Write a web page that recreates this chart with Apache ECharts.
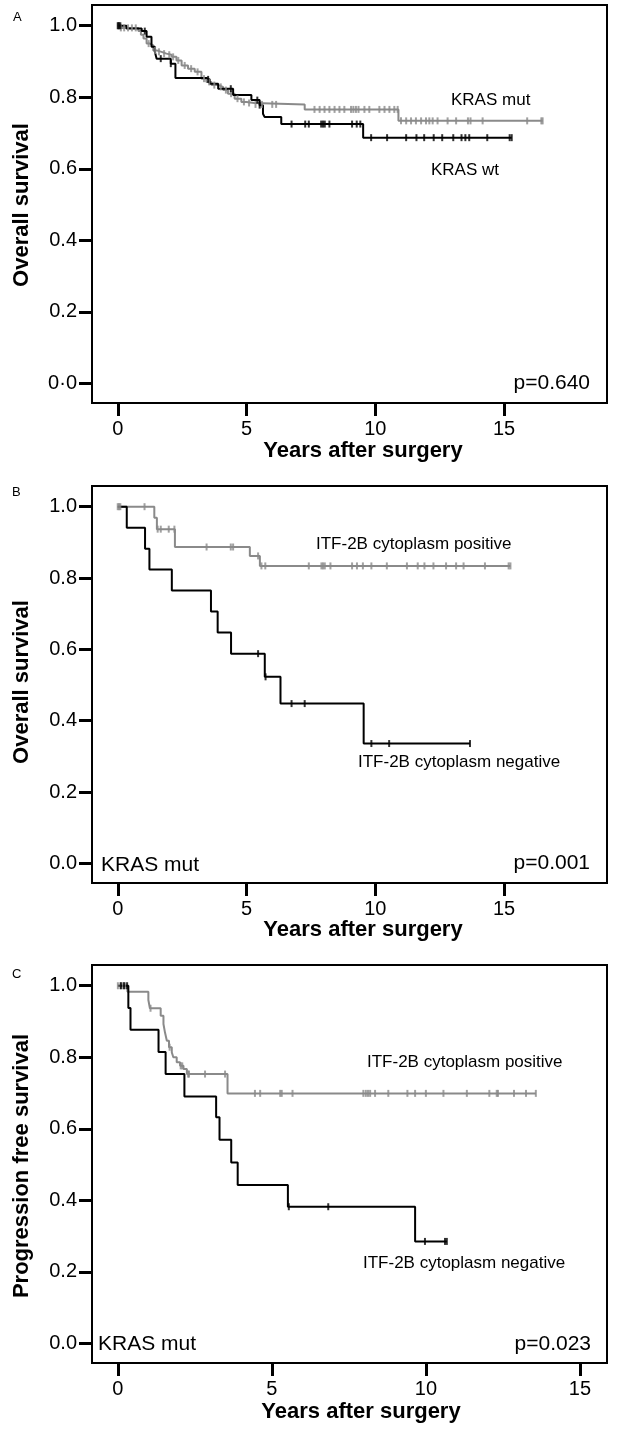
<!DOCTYPE html>
<html><head><meta charset="utf-8">
<script src="https://cdn.jsdelivr.net/npm/echarts@6/dist/echarts.min.js"></script>
<style>html,body{margin:0;padding:0;background:#fff}#c{width:620px;height:1433px}</style>
</head><body><div id="c"></div>
<script>
// ---------- tick labels ----------
const yTicks = [0, 0.2, 0.4, 0.6, 0.8, 1.0];
const yTickLabelsA = ['0·0', '0.2', '0.4', '0.6', '0.8', '1.0'];
const yTickLabelsBC = ['0.0', '0.2', '0.4', '0.6', '0.8', '1.0'];
const xTicks = [0, 5, 10, 15];
const xTickLabels = ['0', '5', '10', '15'];

// ---------- Panel A: KRAS wt (black) / KRAS mut (gray) ----------
const aWtTimes = [0, 0.34, 0.93, 1.12, 1.31, 1.44, 1.51, 2.06, 2.24, 3.44, 3.57, 3.9, 4.48, 5.19, 5.51, 5.64, 5.7, 6.35, 9.53, 15.3];
const aWtSurv  = [1.0, 0.992, 0.985, 0.969, 0.941, 0.927, 0.908, 0.894, 0.854, 0.85, 0.838, 0.824, 0.806, 0.792, 0.778, 0.754, 0.745, 0.725, 0.687, 0.687];
const aWtCensor = [0, 0.05, 0.1, 1.05, 1.67, 2.06, 3.51, 4.39, 5.42, 5.51, 6.75, 7.28, 7.42, 7.9, 7.97, 8.04, 8.22, 9.1, 9.28, 9.42, 9.84, 10.46, 11.2, 11.6, 11.9, 12.27, 12.6, 13.03, 13.35, 13.5, 13.65, 14.35, 15.22, 15.3];

const aMutTimes = [0, 0.09, 0.8, 0.9, 1.0, 1.12, 1.25, 1.38, 1.51, 1.7, 1.89, 2.09, 2.28, 2.48, 2.73, 2.99, 3.25, 3.44, 3.64, 3.9, 4.09, 4.28, 4.54, 4.8, 5.0, 5.3, 7.26, 10.9, 16.5];
const aMutSurv  = [1.0, 0.994, 0.985, 0.975, 0.964, 0.95, 0.945, 0.931, 0.927, 0.922, 0.919, 0.913, 0.903, 0.889, 0.88, 0.871, 0.852, 0.843, 0.834, 0.829, 0.82, 0.81, 0.796, 0.787, 0.784, 0.78, 0.766, 0.734, 0.734];
const aMutCensor = [0.02, 0.12, 0.25, 0.4, 0.55, 0.7, 1.2, 1.45, 1.6, 1.8, 2.0, 2.15, 2.35, 2.6, 2.85, 3.1, 3.35, 3.55, 3.75, 4.0, 4.2, 4.4, 4.65, 4.9, 5.1, 5.35, 5.6, 6.0, 6.15,
  7.64, 7.84, 8.03, 8.22, 8.42, 8.61, 8.8, 9.06, 9.15, 9.25, 9.35, 9.58, 9.77, 10.16, 10.36, 10.55, 10.74, 10.87,
  11.0, 11.2, 11.39, 11.58, 11.78, 11.97, 12.1, 12.23, 12.42, 12.81, 13.14, 13.6, 13.7, 14.17, 15.9, 16.45, 16.5];

// ---------- Panel B: ITF-2B cytoplasm negative (black) / positive (gray), KRAS mut, OS ----------
const bNegTimes = [0, 0.35, 1.06, 1.23, 2.1, 3.62, 3.88, 4.4, 5.71, 6.32, 9.55, 13.68];
const bNegSurv  = [1.0, 0.941, 0.882, 0.824, 0.765, 0.706, 0.647, 0.588, 0.523, 0.448, 0.336, 0.336];
const bNegCensor = [5.45, 5.74, 6.75, 7.26, 9.85, 10.54, 13.68];

const bPosTimes = [0, 1.42, 1.52, 2.22, 5.13, 5.52, 15.25];
const bPosSurv  = [1.0, 0.969, 0.937, 0.887, 0.862, 0.834, 0.834];
const bPosCensor = [0, 0.05, 0.1, 1.04, 1.55, 1.67, 1.98, 2.2, 3.45, 4.39, 4.48, 5.45, 5.58, 5.73, 7.42, 7.91, 7.97, 8.04, 8.26, 9.1, 9.29, 9.52, 9.85, 10.45, 11.23, 11.65, 11.91, 12.26, 12.75, 13.14, 13.43, 14.26, 15.18, 15.25];

// ---------- Panel C: ITF-2B cytoplasm negative (black) / positive (gray), KRAS mut, PFS ----------
const cNegTimes = [0, 0.34, 0.41, 1.32, 1.55, 2.16, 3.19, 3.3, 3.68, 3.89, 5.52, 9.65, 10.68];
const cNegSurv  = [1.0, 0.938, 0.877, 0.815, 0.753, 0.69, 0.632, 0.569, 0.506, 0.443, 0.382, 0.285, 0.285];
const cNegCensor = [0.1, 0.2, 0.3, 5.55, 6.83, 9.97, 10.62, 10.68];

const cPosTimes = [0, 0.31, 0.99, 1.04, 1.39, 1.48, 1.53, 1.59, 1.66, 1.75, 1.8, 1.91, 2.02, 2.13, 2.24, 3.56, 13.57];
const cPosSurv  = [1.0, 0.983, 0.96, 0.937, 0.916, 0.893, 0.869, 0.846, 0.828, 0.814, 0.80, 0.786, 0.776, 0.767, 0.753, 0.699, 0.699];
const cPosCensor = [0, 0.08, 0.16, 0.24, 1.06, 1.68, 2.04, 2.09, 2.28, 2.31, 2.83, 3.48, 4.45, 4.62, 5.27, 5.32, 5.67, 7.97, 8.05, 8.12, 8.19, 8.35, 8.78, 9.4, 9.65, 10.0, 10.57, 11.33, 12.06, 12.3, 12.34, 12.86, 13.25, 13.57];

// ---------- helpers ----------
const FONT = "'Liberation Sans', Arial, Helvetica, sans-serif";
const BLACK = '#000000';
const GRAY = '#8a8a8a';

function pairs(times, surv) { return times.map((t, i) => [t, surv[i]]); }
function survAt(times, surv, t) {
  let s = surv[0];
  for (let i = 0; i < times.length; i++) { if (times[i] <= t + 1e-9) s = surv[i]; }
  return s;
}
function censorPts(times, surv, cens) { return cens.map(t => [t, survAt(times, surv, t)]); }

const panels = [
  { top: 5,   height: 398, xmin: -1,    xmax: 19,    ylab: yTickLabelsA },
  { top: 486, height: 397, xmin: -1,    xmax: 19,    ylab: yTickLabelsBC },
  { top: 965, height: 398, xmin: -0.84, xmax: 15.88, ylab: yTickLabelsBC }
];

const grids = panels.map(p => ({
  left: 92, top: p.top, width: 515, height: p.height,
  show: true, borderColor: '#000', borderWidth: 2, backgroundColor: 'transparent', containLabel: false
}));

const xAxes = panels.map((p, i) => ({
  gridIndex: i, type: 'value', min: p.xmin, max: p.xmax, position: 'bottom',
  axisLine: { show: false, onZero: false },
  axisTick: { show: true, inside: false, length: 13, lineStyle: { color: '#000', width: 3 }, customValues: xTicks },
  axisLabel: { show: true, customValues: xTicks, margin: 16, fontSize: 20, color: '#000', fontFamily: FONT,
    formatter: v => { const k = xTicks.findIndex(q => Math.abs(q - v) < 1e-6); return k >= 0 ? xTickLabels[k] : ''; } },
  splitLine: { show: false }
}));

const yAxes = panels.map((p, i) => ({
  gridIndex: i, type: 'value', min: -0.055, max: 1.058, position: 'left',
  axisLine: { show: false, onZero: false },
  axisTick: { show: true, inside: false, length: 13, lineStyle: { color: '#000', width: 3 }, customValues: yTicks },
  axisLabel: { show: true, customValues: yTicks, margin: 15, fontSize: 20, color: '#000', fontFamily: FONT,
    formatter: v => { const k = yTicks.findIndex(q => Math.abs(q - v) < 1e-6); return k >= 0 ? p.ylab[k] : ''; } },
  splitLine: { show: false }
}));

function stepLine(name, idx, times, surv, color) {
  return { name, type: 'line', xAxisIndex: idx, yAxisIndex: idx, step: 'end', showSymbol: false, symbol: 'none',
    data: pairs(times, surv), lineStyle: { color, width: 2 }, itemStyle: { color }, z: color === BLACK ? 4 : 3, animation: false };
}
function censors(name, idx, times, surv, cens, color) {
  return { name, type: 'scatter', xAxisIndex: idx, yAxisIndex: idx, symbol: 'rect', symbolSize: [2, 7],
    data: censorPts(times, surv, cens), itemStyle: { color }, z: color === BLACK ? 5 : 4, animation: false };
}

const series = [
  stepLine('KRAS mut', 0, aMutTimes, aMutSurv, GRAY),
  censors('KRAS mut censored', 0, aMutTimes, aMutSurv, aMutCensor, GRAY),
  stepLine('KRAS wt', 0, aWtTimes, aWtSurv, BLACK),
  censors('KRAS wt censored', 0, aWtTimes, aWtSurv, aWtCensor, BLACK),
  stepLine('ITF-2B cytoplasm positive', 1, bPosTimes, bPosSurv, GRAY),
  censors('ITF-2B cytoplasm positive censored', 1, bPosTimes, bPosSurv, bPosCensor, GRAY),
  stepLine('ITF-2B cytoplasm negative', 1, bNegTimes, bNegSurv, BLACK),
  censors('ITF-2B cytoplasm negative censored', 1, bNegTimes, bNegSurv, bNegCensor, BLACK),
  stepLine('ITF-2B cytoplasm positive', 2, cPosTimes, cPosSurv, GRAY),
  censors('ITF-2B cytoplasm positive censored', 2, cPosTimes, cPosSurv, cPosCensor, GRAY),
  stepLine('ITF-2B cytoplasm negative', 2, cNegTimes, cNegSurv, BLACK),
  censors('ITF-2B cytoplasm negative censored', 2, cNegTimes, cNegSurv, cNegCensor, BLACK)
];

function txt(text, x, y, size, opts) {
  opts = opts || {};
  return { type: 'text', x, y, rotation: opts.rot || 0, z: 10, silent: true,
    style: { text, fill: '#000', fontSize: size, fontFamily: FONT, fontWeight: opts.bold ? 'bold' : 'normal',
      textAlign: opts.align || 'left', textVerticalAlign: 'middle' } };
}

const graphic = [
  // Panel A
  txt('A', 13, 17, 13),
  txt('KRAS mut', 451, 100, 17),
  txt('KRAS wt', 431, 170, 17),
  txt('p=0.640', 590, 383, 21, { align: 'right' }),
  txt('Years after surgery', 363, 451, 22, { bold: true, align: 'center' }),
  txt('Overall survival', 22, 205, 22, { bold: true, align: 'center', rot: Math.PI / 2 }),
  // Panel B
  txt('B', 12, 492, 13),
  txt('ITF-2B cytoplasm positive', 316, 544, 17),
  txt('ITF-2B cytoplasm negative', 358, 762, 17),
  txt('KRAS mut', 101, 865, 21),
  txt('p=0.001', 590, 863, 21, { align: 'right' }),
  txt('Years after surgery', 363, 930, 22, { bold: true, align: 'center' }),
  txt('Overall survival', 22, 682, 22, { bold: true, align: 'center', rot: Math.PI / 2 }),
  // Panel C
  txt('C', 12, 974, 13),
  txt('ITF-2B cytoplasm positive', 367, 1062, 17),
  txt('ITF-2B cytoplasm negative', 363, 1263, 17),
  txt('KRAS mut', 98, 1344, 21),
  txt('p=0.023', 591, 1344, 21, { align: 'right' }),
  txt('Years after surgery', 361, 1412, 22, { bold: true, align: 'center' }),
  txt('Progression free survival', 22, 1166, 22, { bold: true, align: 'center', rot: Math.PI / 2 })
];

const chart = echarts.init(document.getElementById('c'), null, { renderer: 'canvas' });
chart.setOption({
  animation: false,
  backgroundColor: '#fff',
  grid: grids,
  xAxis: xAxes,
  yAxis: yAxes,
  series,
  graphic
});
</script></body></html>
